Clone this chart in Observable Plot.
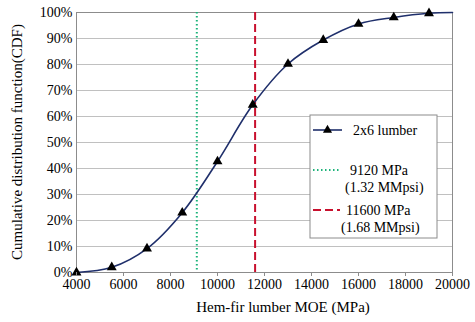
<!DOCTYPE html>
<html><head><meta charset="utf-8">
<script src="https://cdn.jsdelivr.net/npm/d3@7"></script>
<script src="https://cdn.jsdelivr.net/npm/@observablehq/plot@0.6"></script>
<style>body{margin:0;background:#fff}</style>
</head><body><div id="chart"></div>
<script>
const moe = [4000, 5500, 7000, 8500, 10000, 11500, 13000, 14500, 16000, 17500, 19000];
const cdf = [0, 0.02, 0.092, 0.23, 0.427, 0.645, 0.802, 0.894, 0.956, 0.981, 0.997];
const curveEnd = {moe: 20000, cdf: 1.0};
const refLines = [9120, 11600];
const xTicks = [4000, 6000, 8000, 10000, 12000, 14000, 16000, 18000, 20000];
const yTicks = [0, 0.1, 0.2, 0.3, 0.4, 0.5, 0.6, 0.7, 0.8, 0.9, 1.0];
const legendLabels = [["2x6 lumber"], ["9120 MPa", "(1.32 MMpsi)"], ["11600 MPa", "(1.68 MMpsi)"]];

const pts = moe.map((m, i) => ({moe: m, cdf: cdf[i]}));
const linePts = [...pts, curveEnd];
const font = "'Liberation Serif', 'Times New Roman', serif";

const plot = Plot.plot({
  width: 475, height: 322,
  marginLeft: 76, marginRight: 23, marginTop: 12, marginBottom: 50,
  style: {fontFamily: font, fontSize: "14px", color: "#000", background: "#fff"},
  x: {domain: [4000, 20000], label: null},
  y: {domain: [0, 1], label: null},
  marks: [
    Plot.gridY(yTicks, {stroke: "#c0c0c0", strokeOpacity: 1}),
    Plot.frame({stroke: "#8c8c8c"}),
    Plot.ruleX(refLines.slice(0,1), {stroke: "#1db37a", strokeWidth: 2, strokeDasharray: "1.5,2.5"}),
    Plot.ruleX(refLines.slice(1,2), {stroke: "#c8102e", strokeWidth: 2, strokeDasharray: "8,4"}),
    Plot.line(linePts, {x: "moe", y: "cdf", stroke: "#1f2f6b", strokeWidth: 1.6, curve: "catmull-rom"}),
    Plot.dot(pts, {x: "moe", y: "cdf", symbol: "triangle", fill: "#000", r: 3.7}),
    Plot.axisX({ticks: xTicks, tickFormat: d => String(d), tickSize: 4, tickPadding: 3, stroke: "#8c8c8c", label: null, fontSize: 14}),
    Plot.axisY({ticks: yTicks, tickFormat: d3.format(".0%"), tickSize: 0, tickPadding: 4, label: null, fontSize: 14})
  ]
});
document.getElementById("chart").appendChild(plot);

const svg = d3.select(plot);
// axis titles
svg.append("text").attr("x", 283).attr("y", 312).attr("text-anchor", "middle")
  .attr("font-family", font).attr("font-size", 15).attr("fill", "#000").text("Hem-fir lumber MOE (MPa)");
svg.append("text").attr("transform", "translate(22,142) rotate(-90)").attr("text-anchor", "middle")
  .attr("font-family", font).attr("font-size", 15).attr("fill", "#000").text("Cumulative distribution function(CDF)");
// legend
const lg = svg.append("g").attr("font-family", font).attr("font-size", 14).attr("fill", "#000").attr("text-anchor", "start");
lg.append("rect").attr("x", 310).attr("y", 115).attr("width", 127).attr("height", 123)
  .attr("fill", "#fff").attr("stroke", "#8c8c8c");
lg.append("line").attr("x1", 313).attr("x2", 342).attr("y1", 130).attr("y2", 130).attr("stroke", "#1f2f6b").attr("stroke-width", 1.6);
lg.append("path").attr("d", d3.symbol(d3.symbolTriangle, 36)()).attr("transform", "translate(327.5,130)").attr("fill", "#000");
lg.append("text").attr("x", 353).attr("y", 135).text(legendLabels[0][0]);
lg.append("line").attr("x1", 313).attr("x2", 340).attr("y1", 170).attr("y2", 170).attr("stroke", "#1db37a").attr("stroke-width", 2).attr("stroke-dasharray", "1.5,2.5");
lg.append("text").attr("x", 350).attr("y", 175).text(legendLabels[1][0]);
lg.append("text").attr("x", 345).attr("y", 192).text(legendLabels[1][1]);
lg.append("line").attr("x1", 313).attr("x2", 340).attr("y1", 210).attr("y2", 210).attr("stroke", "#c8102e").attr("stroke-width", 2).attr("stroke-dasharray", "8,4");
lg.append("text").attr("x", 346).attr("y", 215).text(legendLabels[2][0]);
lg.append("text").attr("x", 341).attr("y", 232).text(legendLabels[2][1]);
</script></body></html>
